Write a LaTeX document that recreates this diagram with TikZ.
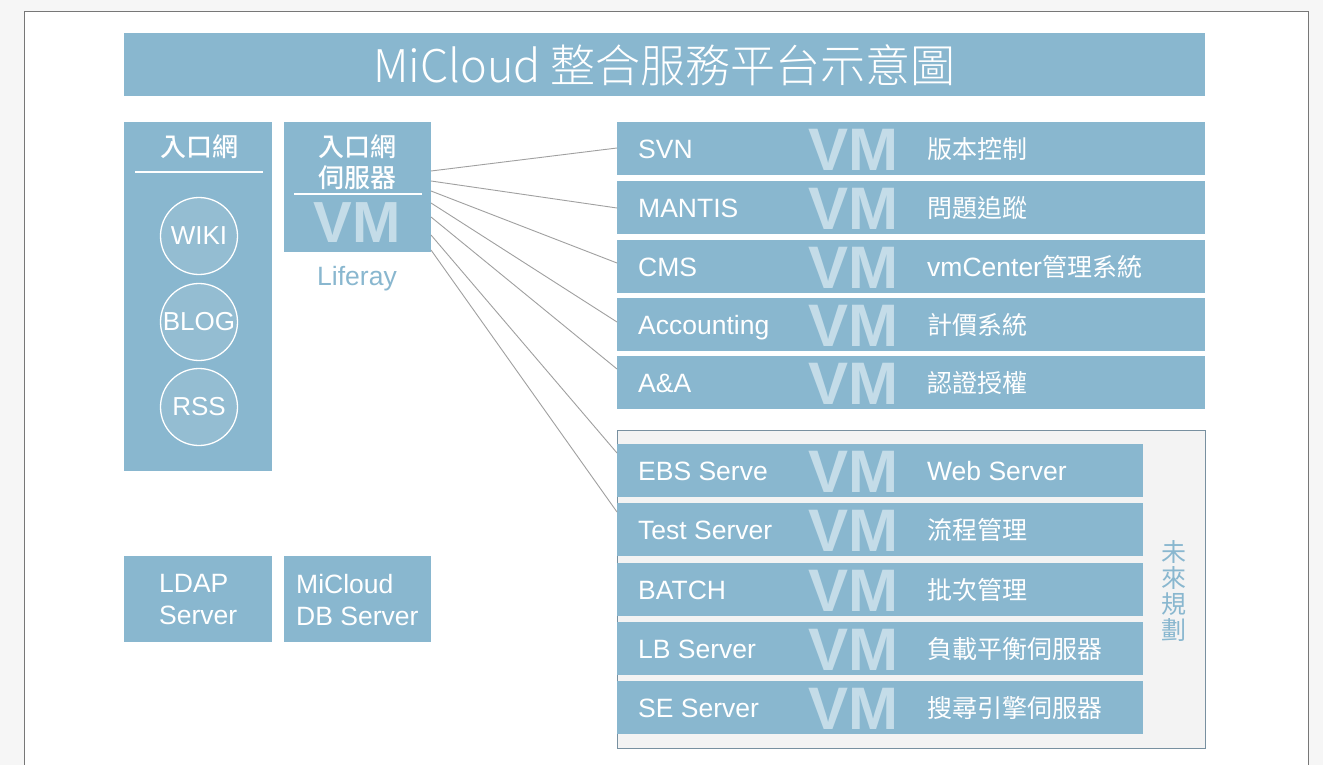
\documentclass[tikz,border=0pt]{standalone}
\usepackage{fontspec}
\setmainfont{Liberation Sans}
\newfontfamily\lat{Liberation Sans}
\newfontfamily\cjk{Noto Sans CJK TC}
\IfFontExistsTF{Noto Sans CJK TC Light}{\newfontfamily\cjklight{Noto Sans CJK TC Light}}{\newfontfamily\cjklight{Noto Sans CJK TC}}
\IfFontExistsTF{Noto Sans CJK TC Medium}{\newfontfamily\cjkmed{Noto Sans CJK TC Medium}}{\newfontfamily\cjkmed{Noto Sans CJK TC}}
\definecolor{mb}{HTML}{89B7CF}
\definecolor{vmc}{HTML}{C4DCE8}
\definecolor{circfill}{HTML}{94BDD2}
\definecolor{lg}{HTML}{A0A0A0}
\definecolor{bgout}{HTML}{F6F6F6}
\definecolor{frame}{HTML}{777777}
\definecolor{futfill}{HTML}{F3F3F3}
\definecolor{futdraw}{HTML}{7890A0}
\begin{document}
\begin{tikzpicture}[x=1pt,y=-1pt,
  box/.style={fill=mb, draw=none, inner sep=0, anchor=north west},
  lbl/.style={text=white, font=\lat\fontsize{26.5}{28}\selectfont, anchor=base west, inner sep=0},
  cjklbl/.style={text=white, font=\cjk\fontsize{25}{28}\selectfont, anchor=base west, inner sep=0},
  vmtxt/.style={text=vmc, font=\lat\bfseries\fontsize{60}{60}\selectfont, anchor=base, inner sep=0},
  conn/.style={draw=lg, line width=0.9pt},
  circ/.style={circle, draw=white, line width=1.3pt, fill=circfill, minimum size=77pt, text=white, font=\lat\fontsize{26}{26}\selectfont, inner sep=0}]
\useasboundingbox (0,0) rectangle (1323,765);
\fill[bgout] (0,0) rectangle (1323,765);
\draw[fill=white, draw=frame, line width=1pt] (24,12) rectangle (1308,790);

% title
\node[box, minimum width=1081pt, minimum height=63pt] (title) at (124,33) {};
\node[text=white, inner sep=0, font=\cjklight\fontsize{45}{45}\selectfont] (titletxt) at ([yshift=-1pt]title.center) {MiCloud 整合服務平台示意圖};

% portal column
\node[box, minimum width=148pt, minimum height=349pt] (portal) at (124,122) {};
\node[text=white, inner sep=0, font=\cjkmed\fontsize{26}{26}\selectfont] (portalhd) at (199,147) {入口網};
\coordinate (pl1) at (135,172);
\coordinate (pl2) at (263,172);
\draw[white, line width=1.2pt] (pl1) -- (pl2);
\node[circ] (wiki) at (199,236) {WIKI};
\node[circ] (blog) at (199,322) {BLOG};
\node[circ] (rss) at (199,407) {RSS};

% portal server
\node[box, minimum width=147pt, minimum height=130pt] (srv) at (284,122) {};
\node[text=white, inner sep=0, align=center, font=\cjkmed\fontsize{26}{31}\selectfont] (srvhd) at (357,162) {入口網\\伺服器};
\coordinate (sl1) at (294,194);
\coordinate (sl2) at (422,194);
\draw[white, line width=1.2pt] (sl1) -- (sl2);
\node[vmtxt, font=\lat\bfseries\fontsize{58}{58}\selectfont] (srvvm) at (357,242) {VM};
\node[text=mb, inner sep=0, font=\lat\fontsize{26.5}{26}\selectfont] (liferay) at (357,279) {Liferay};

% LDAP / DB
\node[box, minimum width=148pt, minimum height=86pt] (ldap) at (124,556) {};
\node[text=white, inner sep=0, anchor=west, align=left, font=\lat\fontsize{26.5}{32}\selectfont] (ldaptxt) at (159,600) {LDAP\\Server};
\node[box, minimum width=147pt, minimum height=86pt] (db) at (284,556) {};
\node[text=white, inner sep=0, anchor=west, align=left, font=\lat\fontsize{26.5}{32}\selectfont] (dbtxt) at (296,600) {MiCloud\\DB Server};

% future box
\node[fill=futfill, draw=futdraw, line width=1.2pt, inner sep=0, anchor=north west, minimum width=588pt, minimum height=318pt] (future) at (617,430) {};
\node[text=mb, inner sep=0, align=center, font=\cjk\fontsize{25}{26}\selectfont] (futtxt) at (1174,591) {未\\來\\規\\劃};

% rows
\foreach \nm/\y/\w/\a/\b in {svn/122/588/SVN/版本控制, mantis/181/588/MANTIS/問題追蹤, cms/240/588/CMS/{{\lat\fontsize{26.5}{28}\selectfont vmCenter}管理系統}, acc/298/588/Accounting/計價系統, aa/356/588/A\&A/認證授權, ebs/444/526/EBS Serve/{\lat\fontsize{26.5}{28}\selectfont Web Server}, test/503/526/Test Server/流程管理, batch/563/526/BATCH/批次管理, lb/622/526/LB Server/負載平衡伺服器, se/681/526/SE Server/搜尋引擎伺服器}{
  \node[box, minimum width=\w pt, minimum height=53pt] (\nm) at (617,\y) {};
  \node[lbl] (\nm l) at ([xshift=21pt, yshift=-9.5pt]\nm.west) {\a};
  \node[vmtxt] (\nm v) at ([xshift=236pt, yshift=-21.5pt]\nm.west) {VM};
  \node[cjklbl] (\nm r) at ([xshift=310pt, yshift=-9.5pt]\nm.west) {\b};
}

% connectors
\coordinate (s1) at (431,171);
\coordinate (s2) at (431,181);
\coordinate (s3) at (431,191);
\coordinate (s4) at (431,203);
\coordinate (s5) at (431,217);
\coordinate (s6) at (431,235);
\coordinate (s7) at (431,250);
\coordinate (e1) at (617,148);
\coordinate (e2) at (617,208);
\coordinate (e3) at (617,263);
\coordinate (e4) at (617,322);
\coordinate (e5) at (617,369);
\coordinate (e6) at (617,453);
\coordinate (e7) at (617,512);
\foreach \i in {1,...,7}{\draw[conn] (s\i) -- (e\i);}
\end{tikzpicture}
\end{document}
